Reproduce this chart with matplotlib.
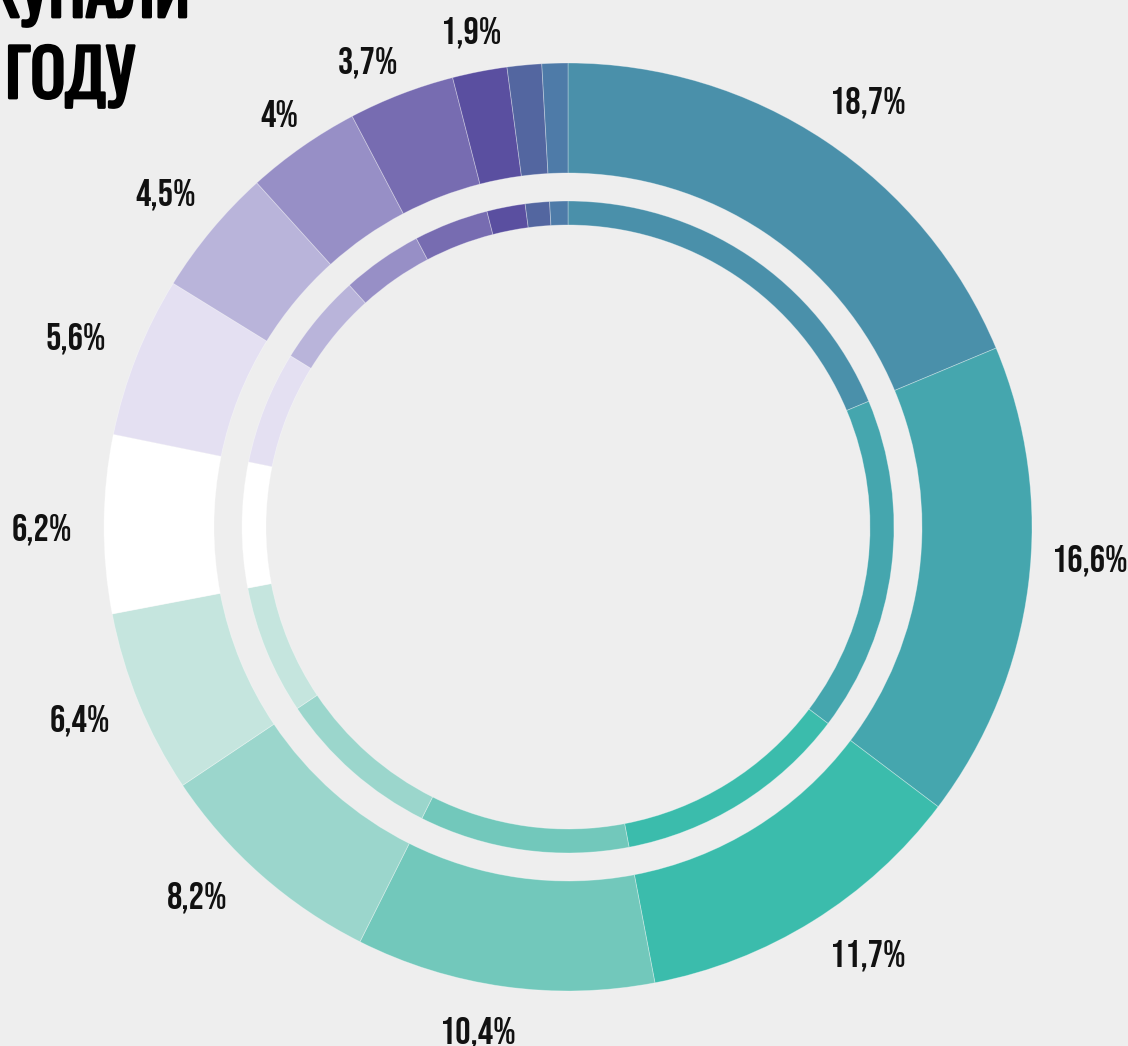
import matplotlib
matplotlib.use("Agg")
import matplotlib.pyplot as plt
import matplotlib.patheffects as pe
import numpy as np

# shares, clockwise from 12 o'clock
shares = [18.7, 16.6, 11.7, 10.4, 8.2, 6.4, 6.2, 5.6, 4.5, 4.0, 3.7, 1.9, 1.2, 0.9]
labels = ["18,7%", "16,6%", "11,7%", "10,4%", "8,2%", "6,4%", "6,2%",
          "5,6%", "4,5%", "4%", "3,7%", "1,9%", "", ""]
colors = ["#4a90aa", "#45a6ae", "#3bbcac", "#72c8bb", "#9bd6cc", "#c5e5de",
          "#ffffff", "#e4e0f2", "#b9b4da", "#978fc6", "#776cb1", "#5a4fa0",
          "#5366a0", "#4e7ba8"]
title_lines = ["КУПАЛИ", "ГОДУ"]

BG = "#eeeeee"
LABEL_FONT = ["Bebas Neue", "Oswald", "Roboto Condensed", "DejaVu Sans"]
TITLE_FONT = ["Oswald", "Roboto Condensed", "DejaVu Sans"]
W, H = 1128, 1046
CX, CY = 568, H - 527
R_OUT, W_OUT = 464, 110
R_IN, W_IN = 326, 24
LABEL_R = 520
# small hand nudges so labels sit where the source put them
NUDGE_DEG = [-1.4, 3.8, 3.3, -2.2, -3.8, -0.9, 0.4, 0.4, 0, 0, 2.1, 0, 0, 0]
NUDGE_R = [2, 3, 1, -9, 2, 4, 6, 8, 3, -16, -12, -14, 0, 0]

fig = plt.figure(figsize=(W / 100, H / 100), dpi=100, facecolor=BG)
ax = fig.add_axes([0, 0, 1, 1])
ax.set_facecolor(BG)

wedge_kw = dict(edgecolor=(1, 1, 1, 0.35), linewidth=0.6)
ax.pie(shares, colors=colors, startangle=90, counterclock=False,
       radius=R_OUT, center=(CX, CY), wedgeprops=dict(width=W_OUT, **wedge_kw))
ax.pie(shares, colors=colors, startangle=90, counterclock=False,
       radius=R_IN, center=(CX, CY), wedgeprops=dict(width=W_IN, **wedge_kw))

# percentage labels at mid-angle of each wedge
cum = np.cumsum([0] + shares[:-1])
total = sum(shares)
for i, (lab, s, c0) in enumerate(zip(labels, shares, cum)):
    if not lab:
        continue
    ang = np.deg2rad(90 - 360 * (c0 + s / 2) / total + NUDGE_DEG[i])
    r = LABEL_R + NUDGE_R[i]
    ax.text(CX + r * np.cos(ang), CY + r * np.sin(ang), lab,
            ha="center", va="center_baseline", fontsize=27.5,
            family=LABEL_FONT, color="#111111")

# title, partly outside the frame as in the source
thick = [pe.withStroke(linewidth=2.0, foreground="#000000")]
ax.text(190, H - 17, title_lines[0], ha="right", va="baseline",
        fontsize=46.5, fontweight="bold", family=TITLE_FONT, color="#000000",
        path_effects=thick)
ax.text(135, H - 98, title_lines[1], ha="right", va="baseline",
        fontsize=46.5, fontweight="bold", family=TITLE_FONT, color="#000000",
        path_effects=thick)

ax.set_xlim(0, W)
ax.set_ylim(0, H)
ax.set_aspect("equal")
ax.axis("off")

fig.savefig("out.png", dpi=100, facecolor=BG)
